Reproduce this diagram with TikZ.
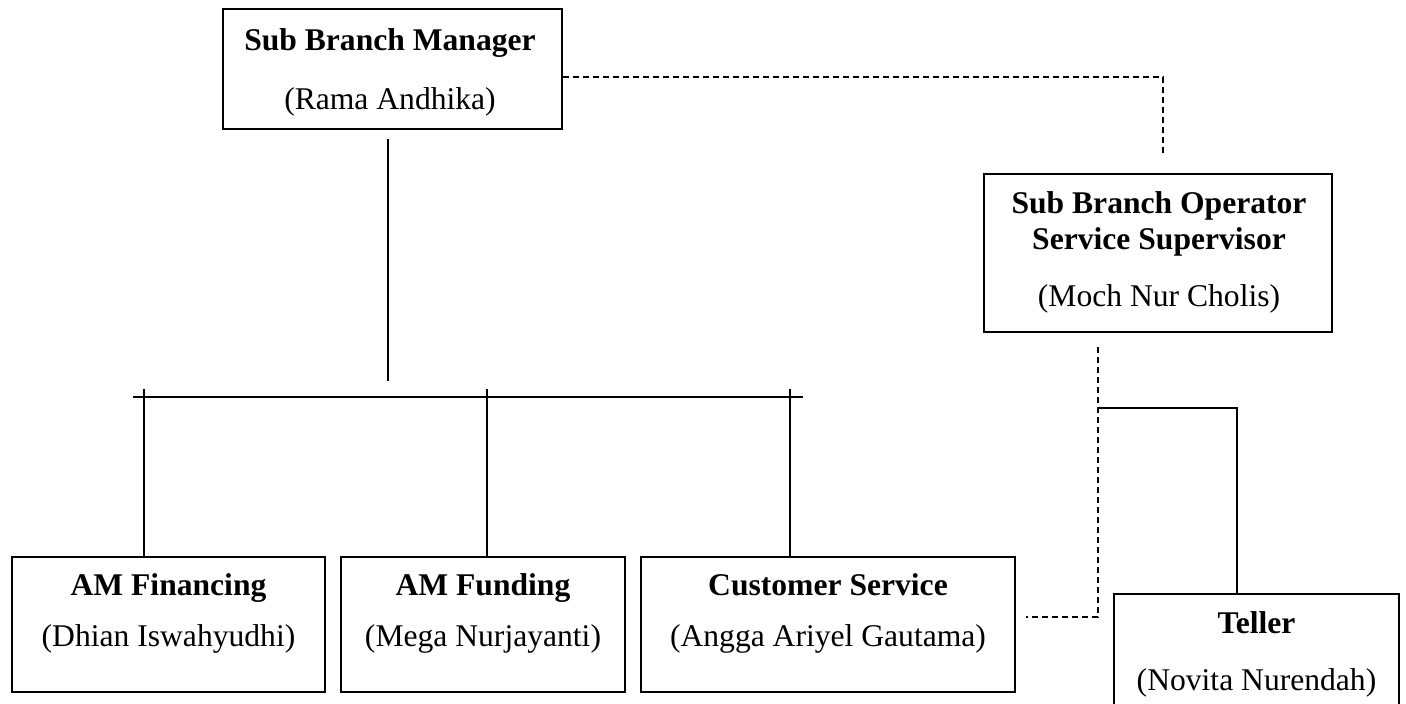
\documentclass[tikz,border=0pt]{standalone}
\usepackage{fontspec}
\setmainfont{Liberation Serif}
\begin{document}
\begin{tikzpicture}[x=0.5pt,y=-0.5pt,
  orgbox/.style={draw, line width=1pt, inner sep=0pt},
  title/.style={anchor=base, inner sep=0pt, font=\fontsize{15.8}{19}\selectfont\bfseries},
  person/.style={anchor=base, inner sep=0pt, font=\fontsize{15.8}{19}\selectfont},
  solidlink/.style={line width=0.9pt},
  dashlink/.style={line width=0.7pt, dash pattern=on 3pt off 2pt}]
\useasboundingbox (0,0) rectangle (1406,704);
\clip (0,0) rectangle (1406,704);

% boxes
\node[orgbox, minimum width=169.5pt, minimum height=60pt] (mgr) at (392.5,69) {};
\node[orgbox, minimum width=174pt, minimum height=79pt] (ops) at (1158,253) {};
\node[orgbox, minimum width=156.5pt, minimum height=67.5pt] (fin) at (168.5,624.5) {};
\node[orgbox, minimum width=142pt, minimum height=67.5pt] (fund) at (483,624.5) {};
\node[orgbox, minimum width=187pt, minimum height=67.5pt] (cs) at (828,624.5) {};
\node[orgbox, minimum width=142.5pt, minimum height=65pt] (tel) at (1256.5,659) {};

% labels
\node[title] (mgrA) at (390,50.7) {Sub Branch Manager};
\node[person] (mgrB) at (390,110) {(Rama Andhika)};
\node[title] (opsA) at (1159,214) {Sub Branch Operator};
\node[title] (opsB) at (1159,250) {Service Supervisor};
\node[person] (opsC) at (1159,307) {(Moch Nur Cholis)};
\node[title] (finA) at (168.5,596) {AM Financing};
\node[person] (finB) at (168.5,646) {(Dhian Iswahyudhi)};
\node[title] (fundA) at (483,596) {AM Funding};
\node[person] (fundB) at (483,646) {(Mega Nurjayanti)};
\node[title] (csA) at (828,596) {Customer Service};
\node[person] (csB) at (828,646) {(Angga Ariyel Gautama)};
\node[title] (telA) at (1256.5,633) {Teller};
\node[person] (telB) at (1256.5,690) {(Novita Nurendah)};

% line of command
\coordinate (trunkTop) at (388,139);
\coordinate (trunkEnd) at (388,381);
\coordinate (barL) at (133,397);
\coordinate (barR) at (803,397);
\coordinate (tickFin) at (144,389);
\coordinate (tickFund) at (487,389);
\coordinate (tickCs) at (790,389);
\draw[solidlink] (trunkTop) -- (trunkEnd);
\draw[solidlink] (barL) -- (barR);
\draw[solidlink] (tickFin) -- (tickFin |- fin.north);
\draw[solidlink] (tickFund) -- (tickFund |- fund.north);
\draw[solidlink] (tickCs) -- (tickCs |- cs.north);

% coordination lines
\coordinate (opsTopEnd) at (1163,154);
\draw[dashlink] (mgr.east |- 0,77) -| (opsTopEnd);
\coordinate (opsDown) at (1098,347);
\coordinate (csLinkEnd) at (1026,617);
\draw[dashlink] (opsDown) |- (csLinkEnd);
\coordinate (telJoint) at (1098,408);
\draw[solidlink] (telJoint) -| (1237,0 |- tel.north);
\end{tikzpicture}
\end{document}
